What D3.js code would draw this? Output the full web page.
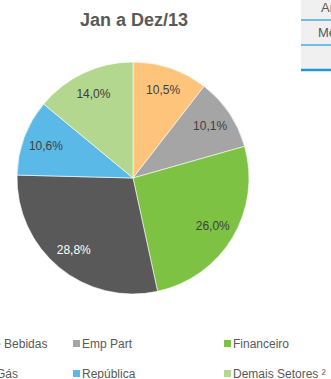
<!DOCTYPE html>
<html>
<head>
<meta charset="utf-8">
<script src="https://cdn.jsdelivr.net/npm/d3@7"></script>
<style>
  html, body { margin: 0; padding: 0; background: #fff; overflow: hidden; }
  svg { display: block; font-family: "Liberation Sans", Arial, sans-serif; }
</style>
</head>
<body>
<svg id="chart" width="331" height="379"></svg>
<script>
// Sector shares, Jan–Dec 2013 (percent)
const sectors = ["Alimentos e Bebidas", "Emp Part", "Financeiro", "Petróleo e Gás", "República", "Demais Setores ²"];
const shares = [10.5, 10.1, 26.0, 28.8, 10.6, 14.0];
const colors = ["#FEC47C", "#A5A5A5", "#7DC243", "#595959", "#5BB9E7", "#B3D78E"];
const labelColors = ["#404040", "#404040", "#404040", "#FFFFFF", "#404040", "#404040"];
const title = "Jan a Dez/13";
const tableRows = ["Ano", "Mês", ""];

const svg = d3.select("#chart");
const fmt = v => d3.format(".1f")(v).replace(".", ",") + "%";

// Title
svg.append("text")
  .attr("x", 134).attr("y", 26)
  .attr("text-anchor", "middle")
  .attr("font-size", 18).attr("font-weight", "bold")
  .attr("fill", "#595959")
  .text(title);

// Pie
const cx = 133, cy = 178, r = 116;
const pie = d3.pie().sort(null).value(d => d.v);
const data = shares.map((v, i) => ({ v, i }));
const arcs = pie(data);
const arc = d3.arc().innerRadius(0).outerRadius(r);
const labelArc = d3.arc().innerRadius(93).outerRadius(93);

const g = svg.append("g").attr("transform", `translate(${cx},${cy})`);
g.selectAll("path").data(arcs).join("path")
  .attr("d", arc)
  .attr("fill", d => colors[d.data.i])
  .attr("stroke", "#fff").attr("stroke-width", 0.6);

g.selectAll("text").data(arcs).join("text")
  .attr("transform", d => `translate(${labelArc.centroid(d)})`)
  .attr("text-anchor", "middle")
  .attr("dy", "0.35em")
  .attr("font-size", 12)
  .attr("fill", d => labelColors[d.data.i])
  .text(d => fmt(d.data.v));

// Legend: three columns, two rows
const colX = [-62, 82, 233];
const rowY = [343.5, 373.5];
const leg = svg.append("g");
sectors.forEach((name, i) => {
  const col = i % 3, row = Math.floor(i / 3);
  const x = colX[col], y = rowY[row];
  leg.append("rect")
    .attr("x", x - 9).attr("y", y - 3.5)
    .attr("width", 7).attr("height", 7)
    .attr("fill", colors[i]);
  leg.append("text")
    .attr("x", x).attr("y", y)
    .attr("dy", "0.35em")
    .attr("font-size", 12)
    .attr("fill", "#595959")
    .text(name);
});

// Side table fragment
const tbl = svg.append("g");
tbl.append("rect").attr("x", 301).attr("y", 0).attr("width", 40).attr("height", 70).attr("fill", "#F0F0F0");
const lineY = [20, 45, 70];
tableRows.forEach((t, i) => {
  tbl.append("text")
    .attr("x", 321 - (i === 1 ? 3 : 0)).attr("y", lineY[i] - 12.5)
    .attr("dy", "0.35em")
    .attr("font-size", 13)
    .attr("fill", "#595959")
    .text(t);
  tbl.append("line")
    .attr("x1", 301).attr("x2", 331)
    .attr("y1", lineY[i]).attr("y2", lineY[i])
    .attr("stroke", "#1F9AD6")
    .attr("stroke-width", i === 2 ? 2.5 : 1.2);
});
</script>
</body>
</html>
